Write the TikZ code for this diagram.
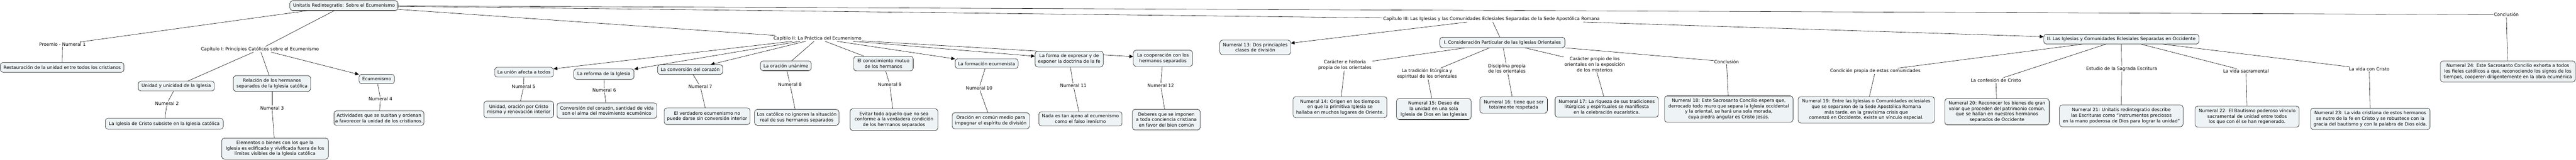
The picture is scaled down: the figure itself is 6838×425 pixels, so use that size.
\documentclass[tikz,border=0pt]{standalone}
\usepackage{fontspec}
\setmainfont{DejaVu Sans}
\usetikzlibrary{arrows.meta}
\definecolor{boxfill}{RGB}{238,244,246}
\pgfdeclarelayer{bg}
\pgfdeclarelayer{edges}
\pgfsetlayers{bg,edges,main}
\begin{document}
\begin{tikzpicture}[x=1pt,y=-1pt,
  every node/.style={font=\fontsize{12}{14.6}\selectfont},
  cbox/.style={draw, line width=0.8pt, rounded corners=7pt, fill=boxfill, align=center, inner xsep=2pt, inner ysep=2pt},
  lbl/.style={align=center, inner sep=1.5pt},
  ln/.style={line width=0.8pt},
  arr/.style={ln, -{Triangle[length=10pt,width=9pt]}}]
\useasboundingbox (0,0) rectangle (6838,425);
\begin{pgfonlayer}{bg}
\fill[white] (0,0) rectangle (6838,425);
\end{pgfonlayer}

% ---- root and chapter I
\node[cbox,minimum width=287pt,minimum height=26pt] (U) at (913,15) {Unitatis Redintegratio: Sobre el Ecumenismo};
\node[lbl] (proemio) at (166,118) {Proemio - Numeral 1};
\node[cbox,minimum width=328pt,minimum height=26pt] (restaur) at (165,179) {Restauración de la unidad entre todos los cristianos};
\node[lbl] (cap1) at (690,131) {Capítulo I: Principios Católicos sobre el Ecumenismo};
\node[cbox,minimum width=202pt,minimum height=26pt] (unidad) at (468,229) {Unidad y unicidad de la Iglesia};
\node[lbl] (num2) at (443,275) {Numeral 2};
\node[cbox,minimum width=313pt,minimum height=29pt] (subsiste) at (436,329) {La Iglesia de Cristo subsiste en la Iglesia católica};
\node[cbox,minimum width=205pt,minimum height=42pt] (relacion) at (722,222) {Relación de los hermanos\\separados de la Iglesia católica};
\node[lbl] (num3) at (722,287) {Numeral 3};
\node[cbox,minimum width=283pt,minimum height=56pt] (elementos) at (730,395) {Elementos o bienes con los que la\\Iglesia es edificada y vivificada fuera de los\\límites visibles de la Iglesia católica};
\node[cbox,minimum width=94pt,minimum height=25pt] (ecum) at (1000,210) {Ecumenismo};
\node[lbl] (num4) at (1010,263) {Numeral 4};
\node[cbox,minimum width=239pt,minimum height=39pt] (activ) at (1006,314) {Actividades que se susitan y ordenan\\a favorecer la unidad de los cristianos.};

% ---- chapter II
\node[lbl] (cap2) at (2170,102) {Capítilo II: La Práctica del Ecumenismo};
\node[cbox,minimum width=156pt,minimum height=26pt] (union) at (1391,192) {La unión afecta a todos};
\node[lbl] (num5) at (1390,230) {Numeral 5};
\node[cbox,minimum width=185pt,minimum height=44pt] (unidadOr) at (1377,291) {Unidad, oración por Cristo\\mismo y renovación interior};
\node[cbox,minimum width=160pt,minimum height=28pt] (reforma) at (1603,197) {La reforma de la Iglesia};
\node[lbl] (num6) at (1604,240) {Numeral 6};
\node[cbox,minimum width=265pt,minimum height=41pt] (convCor) at (1611,294) {Conversión del corazón, santidad de vida\\son el alma del movimiento ecuménico};
\node[cbox,minimum width=173pt,minimum height=26pt] (convers) at (1832,185) {La conversión del corazón};
\node[lbl] (num7) at (1859,230) {Numeral 7};
\node[cbox,minimum width=228pt,minimum height=44pt] (verdadero) at (1877,309) {El verdadero ecumenismo no\\puede darse sin conversión interior};
\node[cbox,minimum width=135pt,minimum height=26pt] (oracion) at (2086,175) {La oración unánime};
\node[lbl] (num8) at (2097,224) {Numeral 8};
\node[cbox,minimum width=224pt,minimum height=42pt] (catolico) at (2115,312) {Los católico no ignoren la situación\\real de sus hermanos separados};
\node[cbox,minimum width=158pt,minimum height=39pt] (conoc) at (2345,169) {El conocimiento mutuo\\de los hermanos};
\node[lbl] (num9) at (2362,225) {Numeral 9};
\node[cbox,minimum width=233pt,minimum height=58pt] (evitar) at (2373,318) {Evitar todo aquello que no sea\\conforme a la verdadera condición\\de los hermanos separados};
\node[cbox,minimum width=167pt,minimum height=26pt] (formacion) at (2619,169) {La formación ecumenista};
\node[lbl] (num10) at (2599,234) {Numeral 10};
\node[cbox,minimum width=205pt,minimum height=43pt] (oracComun) at (2630,321) {Oración en común medio para\\impugnar el espíritu de división};
\node[cbox,minimum width=181pt,minimum height=42pt] (forma) at (2838,157) {La forma de expresar y de\\exponer la doctrina de la fe};
\node[lbl] (num11) at (2849,227) {Numeral 11};
\node[cbox,minimum width=221pt,minimum height=38pt] (nada) at (2868,316) {Nada es tan ajeno al ecumenismo\\como el falso irenísmo};
\node[cbox,minimum width=157pt,minimum height=43pt] (coop) at (3087,155) {La cooperación con los\\hermanos separados};
\node[lbl] (num12) at (3081,227) {Numeral 12};
\node[cbox,minimum width=180pt,minimum height=55pt] (deberes) at (3096,318) {Deberes que se imponen\\a toda conciencia cristiana\\en favor del bien común};

% ---- chapter III
\node[lbl] (cap3) at (3959,51) {Capítulo III: Las Iglesias y las Comunidades Eclesiales Separadas de la Sede Apostólica Romana};
\node[cbox,minimum width=188pt,minimum height=39pt] (num13) at (3332,126) {Numeral 13: Dos princiaples\\clases de división};
\node[cbox,minimum width=332pt,minimum height=28pt] (consI) at (3988,113) {I. Consideración Particular de las Iglesias Orientales};
\node[lbl] (caracter) at (3570,173) {Carácter e historia\\propia de los orientales};
\node[cbox,minimum width=249pt,minimum height=56pt] (num14) at (3557,285) {Numeral 14: Origen en los tiempos\\en que la primitiva Iglesia se\\hallaba en muchos lugares de Oriente.};
\node[lbl] (tradicion) at (3788,196) {La tradición litúrgica y\\espiritual de los orientales};
\node[cbox,minimum width=198pt,minimum height=56pt] (num15) at (3806,290) {Numeral 15: Deseo de\\la unidad en una sola\\Iglesia de Dios en las Iglesias};
\node[lbl] (disciplina) at (4000,182) {Disciplina propia\\de los orientales};
\node[cbox,minimum width=179pt,minimum height=44pt] (num16) at (4018,279) {Numeral 16: tiene que ser\\totalmente respetada};
\node[lbl] (caracterPropio) at (4233,171) {Carácter propio de los\\orientales en la exposición\\de los misterios};
\node[cbox,minimum width=274pt,minimum height=55pt] (num17) at (4265,284) {Numeral 17: La riqueza de sus tradiciones\\litúrgicas y espirituales se manifiesta\\en la celebración eucarística.};
\node[lbl] (conclI) at (4583,164) {Conclusión};
\node[cbox,minimum width=341pt,minimum height=70pt] (num18) at (4589,290) {Numeral 18: Este Sacrosanto Concilio espera que,\\derrocado todo muro que separa la Iglesia occidental\\y la oriental, se hará una sola morada,\\cuya piedra angular es Cristo Jesús.};
\node[cbox,minimum width=412pt,minimum height=26pt] (consII) at (5631,104) {II. Las Iglesias y Comunidades Eclesiales Separadas en Occidente};
\node[lbl] (condicion) at (4978,189) {Condición propia de estas comunidades};
\node[cbox,minimum width=362pt,minimum height=70pt] (num19) at (4954,292) {Numeral 19: Entre las Iglesias o Comunidades eclesiales\\que se separaron de la Sede Apostólica Romana\\más tarde, en la gravísima crisis que\\comenzó en Occidente, existe un vínculo especial.};
\node[lbl] (confesion) at (5298,213) {La confesión de Cristo};
\node[cbox,minimum width=277pt,minimum height=70pt] (num20) at (5301,297) {Numeral 20: Reconocer los bienes de gran\\valor que proceden del patrimonio común,\\que se hallan en nuestros hermanos\\separados de Occidente};
\node[lbl] (estudio) at (5632,183) {Estudio de la Sagrada Escritura};
\node[cbox,minimum width=328pt,minimum height=58pt] (num21) at (5631,308) {Numeral 21: Unitatis redintegratio describe\\las Escrituras como “instrumentos preciosos\\en la mano poderosa de Dios para lograr la unidad"};
\node[lbl] (sacramental) at (5962,189) {La vida sacramental};
\node[cbox,minimum width=276pt,minimum height=56pt] (num22) at (5965,310) {Numeral 22: El Bautismo poderoso vínculo\\sacramental de unidad entre todos\\los que con él se han regenerado.};
\node[lbl] (vidaCristo) at (6289,184) {La vida con Cristo};
\node[cbox,minimum width=317pt,minimum height=57pt] (num23) at (6292,316) {Numeral 23: La vida cristiana de estos hermanos\\se nutre de la fe en Cristo y se robustece con la\\gracia del bautismo y con la palabra de Dios oída.};
\node[lbl] (concl) at (6653,39) {Conclusión};
\node[cbox,minimum width=358pt,minimum height=56pt] (num24) at (6657,190) {Numeral 24: Este Sacrosanto Concilio exhorta a todos\\los fieles católicos a que, reconociendo los signos de los\\tiempos, cooperen diligentemente en la obra ecuménica};

\begin{pgfonlayer}{edges}
\draw[ln] (U) -- (proemio);
\draw[ln] (proemio) -- (restaur);
\draw[ln] (U) -- (cap1);
\draw[ln] (cap1) -- (unidad);
\draw[ln] (unidad) -- (num2);
\draw[ln] (num2) -- (subsiste);
\draw[ln] (cap1) -- (relacion);
\draw[ln] (relacion) -- (num3);
\draw[ln] (num3) -- (elementos);
\draw[arr] (cap1) -- (ecum);
\draw[ln] (ecum) -- (num4);
\draw[ln] (num4) -- (activ);

\draw[ln] (U) -- (cap2);
\draw[arr] (cap2) -- (union);
\draw[ln] (union) -- (num5);
\draw[ln] (num5) -- (unidadOr);
\draw[arr] (cap2) -- (reforma);
\draw[ln] (reforma) -- (num6);
\draw[ln] (num6) -- (convCor);
\draw[arr] (cap2) -- (convers);
\draw[ln] (convers) -- (num7);
\draw[ln] (num7) -- (verdadero);
\draw[ln] (cap2) -- (oracion);
\draw[ln] (oracion) -- (num8);
\draw[ln] (num8) -- (catolico);
\draw[ln] (cap2) -- (conoc);
\draw[ln] (conoc) -- (num9);
\draw[ln] (num9) -- (evitar);
\draw[arr] (cap2) -- (formacion);
\draw[ln] (formacion) -- (num10);
\draw[ln] (num10) -- (oracComun);
\draw[arr] (cap2) -- (forma);
\draw[ln] (forma) -- (num11);
\draw[ln] (num11) -- (nada);
\draw[arr] (cap2) -- (coop);
\draw[ln] (coop) -- (num12);
\draw[ln] (num12) -- (deberes);

\draw[ln] (U) -- (cap3);
\draw[arr] (cap3) -- (num13);
\draw[ln] (cap3) -- (consI);
\draw[ln] (consI) -- (caracter);
\draw[ln] (caracter) -- (num14);
\draw[ln] (consI) -- (tradicion);
\draw[ln] (tradicion) -- (num15);
\draw[ln] (consI) -- (disciplina);
\draw[ln] (disciplina) -- (num16);
\draw[ln] (consI) -- (caracterPropio);
\draw[ln] (caracterPropio) -- (num17);
\draw[ln] (consI) -- (conclI);
\draw[ln] (conclI) -- (num18);
\draw[arr] (cap3) -- (consII);
\draw[ln] (consII) -- (condicion);
\draw[ln] (condicion) -- (num19);
\draw[ln] (consII) -- (confesion);
\draw[ln] (confesion) -- (num20);
\draw[ln] (consII) -- (estudio);
\draw[ln] (estudio) -- (num21);
\draw[ln] (consII) -- (sacramental);
\draw[ln] (sacramental) -- (num22);
\draw[ln] (consII) -- (vidaCristo);
\draw[ln] (vidaCristo) -- (num23);

\draw[ln] (U) -- (concl);
\draw[ln] (concl) -- (num24);
\end{pgfonlayer}
\end{tikzpicture}
\end{document}
